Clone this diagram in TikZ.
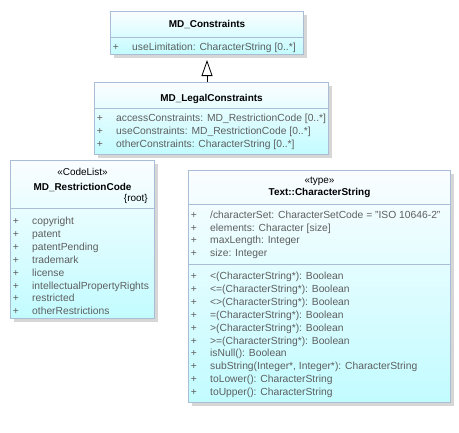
\documentclass[tikz,border=0pt]{standalone}
\usepackage{fontspec}
\setmainfont{Liberation Sans}
\usetikzlibrary{arrows.meta,shadows}
\definecolor{umlline}{HTML}{A9BED6}
\definecolor{umltop}{HTML}{FAFDFF}
\definecolor{umlbot}{HTML}{C2FCFF}
\definecolor{umltext}{HTML}{5E5E5E}
\definecolor{umlshadow}{HTML}{D6D6D6}
\tikzset{
	umlclass/.style={draw=umlline, line width=1bp, top color=umltop, bottom color=umlbot,
		anchor=north west, inner sep=0pt,
		drop shadow={shadow xshift=3bp, shadow yshift=-3bp, fill=umlshadow, opacity=1}},
	umlsep/.style={draw=umlline, line width=1bp},
	umlname/.style={font=\bfseries, text=black, anchor=base, inner sep=0pt},
	umlattr/.style={text=umltext, anchor=base west, inner sep=0pt},
	umlplus/.style={text=umltext, anchor=base, inner sep=0pt},
}
\begin{document}
\begin{tikzpicture}[x=1bp, y=-1bp, font=\fontsize{10.3bp}{12.8bp}\selectfont, >=Triangle]
		\useasboundingbox (0,0) rectangle (459,432);
		% classes
		\node[umlclass, minimum width=193bp, minimum height=43bp] (cons) at (110,11) {};
		\node[umlclass, minimum width=234bp, minimum height=72bp] (legal) at (94,82) {};
		\node[umlclass, minimum width=144bp, minimum height=158bp] (code) at (10,160) {};
		\node[umlclass, minimum width=262bp, minimum height=232bp] (cstr) at (188,170) {};
		% compartments
		\draw[umlsep] (cons.west |- 0,37) -- (cons.east |- 0,37);
		\draw[umlsep] (legal.west |- 0,108) -- (legal.east |- 0,108);
		\draw[umlsep] (code.west |- 0,208) -- (code.east |- 0,208);
		\draw[umlsep] (cstr.west |- 0,204) -- (cstr.east |- 0,204);
		\draw[umlsep] (cstr.west |- 0,264) -- (cstr.east |- 0,264);
		% names
		\node[umlname] (consname) at (cons.center |- 0,27.5) {MD\_Constraints};
		\node[umlname] (legalname) at (legal.center |- 0,101) {MD\_LegalConstraints};
		\node[umlname, font=\mdseries] (codestereo) at (code.center |- 0,175.5) {«CodeList»};
		\node[umlname] (codename) at (code.center |- 0,190.5) {MD\_RestrictionCode};
		\node[umlname, font=\mdseries, anchor=base east] (coderoot) at (148,201.5) {\{root\}};
		\node[umlname, font=\mdseries] (cstrstereo) at (cstr.center |- 0,183.5) {«type»};
		\node[umlname] (cstrname) at (cstr.center |- 0,195.5) {Text::CharacterString};
		% attributes
		\node[umlplus] at (116,50.5) {+};
		\node[umlattr] at (132,50.5) {useLimitation: CharacterString [0..*]};
		\foreach \t [count=\i] in {accessConstraints: MD\_RestrictionCode [0..*],
			useConstraints: MD\_RestrictionCode [0..*], otherConstraints: CharacterString [0..*]}{
			\node[umlplus] at (100,121.5+12.8*\i-12.8) {+};
			\node[umlattr] at (116,121.5+12.8*\i-12.8) {\t};
		}
		\foreach \t [count=\i] in {copyright,patent,patentPending,trademark,license,
			intellectualPropertyRights,restricted,otherRestrictions}{
			\node[umlplus] at (16,224.5+12.9*\i-12.9) {+};
			\node[umlattr] at (32,224.5+12.9*\i-12.9) {\t};
		}
		\foreach \t [count=\i] in {/characterSet: CharacterSetCode = "ISO 10646-2",
			elements: Character [size], maxLength: Integer, size: Integer}{
			\node[umlplus] at (194,218.5+12.7*\i-12.7) {+};
			\node[umlattr] at (210,218.5+12.7*\i-12.7) {\t};
		}
		% operations
		\foreach \t [count=\i] in {<(CharacterString*): Boolean, <=(CharacterString*): Boolean,
			<>(CharacterString*): Boolean, =(CharacterString*): Boolean,
			>(CharacterString*): Boolean, >=(CharacterString*): Boolean, isNull(): Boolean,
			{subString(Integer*, Integer*): CharacterString},
			toLower(): CharacterString, toUpper(): CharacterString}{
			\node[umlplus] at (194,279.5+12.9*\i-12.9) {+};
			\node[umlattr] at (210,279.5+12.9*\i-12.9) {\t};
		}
		% generalization
		\draw[->, >={Triangle[open, length=16bp, width=11bp]}, line width=0.8bp, shorten >=5bp]
			(legal.north -| cons.south) -- (cons.south);
\end{tikzpicture}
\end{document}
